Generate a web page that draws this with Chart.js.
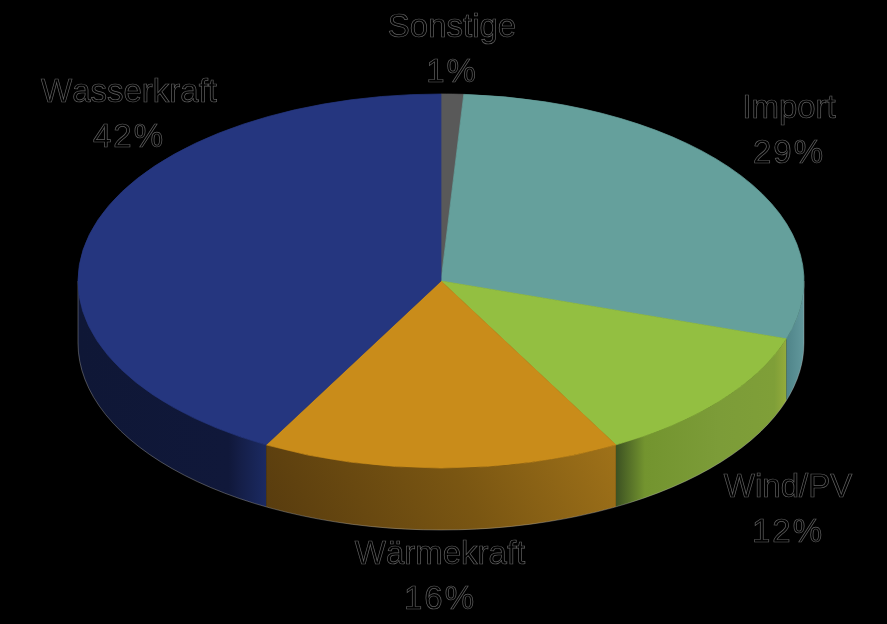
<!DOCTYPE html>
<html lang="de">
<head>
    <meta charset="UTF-8" />
    <title>Stromerzeugung</title>
    <script src="https://cdn.jsdelivr.net/npm/chart.js"></script>
    <style>
        html, body { margin: 0; background: #000; }
        canvas { display: block; }
    </style>
</head>
<body>
    <canvas id="pie3d" width="887" height="624"></canvas>
    <script>
        // Data, clockwise from 12 o'clock
        const categories = ['Sonstige', 'Import', 'Wind/PV', 'Wärmekraft', 'Wasserkraft'];
        const shares = [1, 29, 12, 16, 42];

        const topColors = ['#595959', '#65a09c', '#93bf41', '#c98c1a', '#25367f'];
        // left to right shading of the visible side wall of each slice
        const wallStops = [
            [[0, '#3c3c3c'], [1, '#3c3c3c']],
            [[0, '#4f8489'], [1, '#62989c']],
            [[0, '#3c5122'], [0.17, '#73942f'], [0.6, '#7c9c38'], [0.93, '#7f9f38'], [1, '#93ab3c']],
            [[0, '#573b0e'], [0.5, '#7a5612'], [1, '#a9791b']],
            [[0, '#0f1736'], [0.8, '#10183a'], [0.87, '#151f49'], [1, '#1b2a62']]
        ];
        // only the Wärmekraft wall has a slanted light
        const wallTilted = [false, false, false, true, false];
        // centre of each label (name line, value line is 45px below)
        const labelSpots = [[452, 28], [789, 109], [788, 488], [440, 555], [129, 93]];

        const squash = 187 / 363;
        const wallDepth = 62;

        const pie3d = {
            id: 'pie3d',
            beforeDatasetsDraw(chart) {
                const ctx = chart.ctx;
                const arcs = chart.getDatasetMeta(0).data;
                const cx = arcs[0].x, cy = arcs[0].y, rx = arcs[0].outerRadius, ry = rx * squash;

                // side wall, only the part facing the viewer (0..PI on the canvas)
                arcs.forEach((arc, i) => {
                    const a0 = Math.max(arc.startAngle, 0);
                    const a1 = Math.min(arc.endAngle, Math.PI);
                    if (a1 <= a0) return;
                    const x0 = cx + rx * Math.cos(a1);
                    const x1 = cx + rx * Math.cos(a0);
                    const grad = wallTilted[i]
                        ? ctx.createLinearGradient(x0, cy + ry + wallDepth, x1, cy + ry * 0.4)
                        : ctx.createLinearGradient(x0, 0, x1, 0);
                    wallStops[i].forEach(s => grad.addColorStop(s[0], s[1]));
                    ctx.beginPath();
                    ctx.ellipse(cx, cy, rx, ry, 0, a0, a1);
                    ctx.ellipse(cx, cy + wallDepth, rx, ry, 0, a1, a0, true);
                    ctx.closePath();
                    ctx.fillStyle = grad;
                    ctx.fill();
                });

                // thin light rim along the bottom edge
                ctx.beginPath();
                ctx.moveTo(cx + rx, cy);
                ctx.ellipse(cx, cy + wallDepth, rx, ry, 0, 0, Math.PI);
                ctx.lineTo(cx - rx, cy);
                ctx.strokeStyle = 'rgba(200,200,200,0.45)';
                ctx.lineWidth = 0.8;
                ctx.stroke();

                // squash the round pie into the top ellipse
                ctx.save();
                ctx.translate(cx, cy);
                ctx.scale(1, squash);
                ctx.translate(-cx, -cy);
            },
            afterDatasetsDraw(chart) {
                const ctx = chart.ctx;
                ctx.restore();

                ctx.save();
                ctx.font = '33px "Liberation Sans", Arial, sans-serif';
                ctx.fontKerning = 'none';
                ctx.textAlign = 'center';
                ctx.textBaseline = 'middle';
                ctx.fillStyle = '#000';
                ctx.strokeStyle = '#606060';
                ctx.lineWidth = 0.7;
                categories.forEach((name, i) => {
                    const [x, y] = labelSpots[i];
                    const pct = shares[i] + '%';
                    ctx.letterSpacing = '0px';
                    ctx.fillText(name, x, y);
                    ctx.strokeText(name, x, y);
                    ctx.letterSpacing = '2px';
                    ctx.fillText(pct, x, y + 45);
                    ctx.strokeText(pct, x, y + 45);
                });
                ctx.restore();
            }
        };

        new Chart(document.getElementById('pie3d').getContext('2d'), {
            type: 'pie',
            data: {
                labels: categories,
                datasets: [{
                    data: shares,
                    backgroundColor: topColors,
                    borderColor: topColors,
                    borderWidth: 1,
                    clip: false
                }]
            },
            options: {
                responsive: false,
                animation: false,
                radius: 363,
                layout: { padding: { right: 5, bottom: 62 } },
                plugins: { legend: { display: false }, tooltip: { enabled: false } }
            },
            plugins: [pie3d]
        });
    </script>
</body>
</html>
